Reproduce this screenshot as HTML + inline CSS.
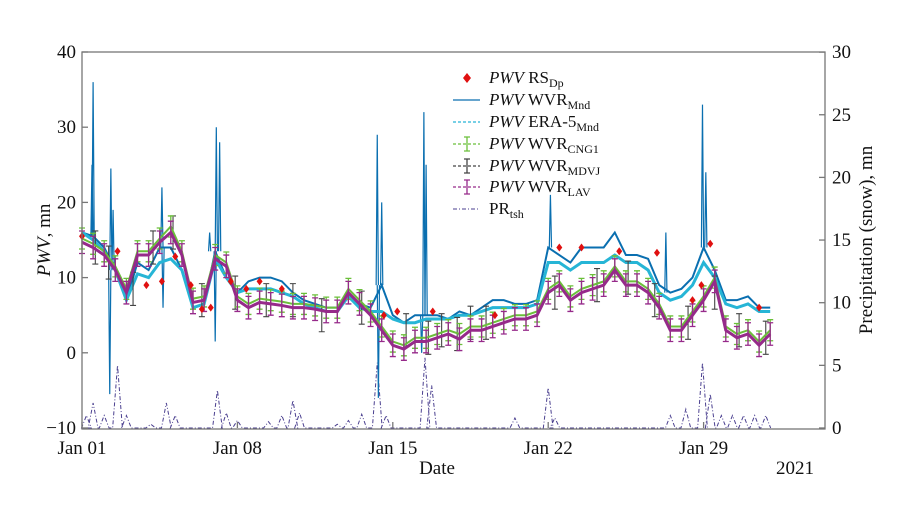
<!DOCTYPE html>
<html><head><meta charset="utf-8"><style>
body{margin:0;background:#fff;}
svg text{font-family:"Liberation Serif",serif;fill:#111;}
</style></head><body>
<svg id="chart" width="921" height="523" viewBox="0 0 921 523" xmlns="http://www.w3.org/2000/svg">
<rect x="0" y="0" width="921" height="523" fill="#fff"/>
<g id="marks"></g>
<rect x="82" y="52" width="743" height="377" fill="none" stroke="#777" stroke-width="1.3"/>
<g id="axes"></g>
<text transform="translate(50,240) rotate(-90)" text-anchor="middle" font-size="19"><tspan font-style="italic">PWV</tspan>, mn</text>
<text transform="translate(872,240) rotate(-90)" text-anchor="middle" font-size="19">Precipitation (snow), mn</text>
<text x="437" y="474" text-anchor="middle" font-size="19">Date</text>
<text x="795" y="474" text-anchor="middle" font-size="19">2021</text>
<g id="legend" font-size="16"></g>
</svg>
<script>
const NS="http://www.w3.org/2000/svg";
const days=[0,0.5,1,1.5,2,2.5,3,3.5,4,4.5,5,5.5,6,6.5,7,7.5,8,8.5,9,9.5,10,10.5,11,11.5,12,12.5,13,13.5,14,14.5,15,15.5,16,16.5,17,17.5,18,18.5,19,19.5,20,20.5,21,21.5,22,22.5,23,23.5,24,24.5,25,25.5,26,26.5,27,27.5,28,28.5,29,29.5,30,30.5,31];
const wvrMnd=[16,15.5,14,11,7,12,11,14,14,11,6,6.5,13.5,10,8,9.5,10,10,9.5,8,7,6.5,6,6,8,6.5,6,9,5,4,5,5,5,4.5,5.5,5,6,7,7,6.5,6.5,7,14,13,12,14,14,14,16,13,13,12.5,9,8,8.5,10,14,11,7,7,7.5,6,6];
const era5=[16,15,13.5,11,7,10.5,10,12,12.5,11,6,6.5,12.5,10,8,8.5,8.5,8.5,8,7.5,6.5,6,5.5,5.5,7.5,6,5.5,5.5,4.5,4,4,4.5,4.5,4.5,5,5,5.5,6,6,6,6,6.5,12,12,11,12,12,12,13,12,12,11,8,7,7.5,9,12,10,6.5,6,6.5,5.5,5.5];
const cng1=[15.2,14.5,13.5,11.5,8.5,13.5,13.5,15.2,16.8,13.5,7.2,7.5,13,12,7.5,6.5,7.2,7,6.8,6.5,6.5,6.3,6,6,8.5,7,5.5,3.5,1.5,1,2,2,2.5,3,2.5,3.5,3.5,4,4.5,5,5,5.5,8.5,9.5,7.5,8.5,9,9.5,11.5,9.5,9.5,8.5,6.5,3.5,3.5,5.5,7.5,10,3.5,2.5,3,1.5,3];
const lav=[14.7,14,13,11,8,13,13,14.7,16,13,6.7,7,12.5,11.5,7,6,6.7,6.5,6.3,6,6,5.8,5.5,5.5,8,6.5,5,3,1,0.5,1.5,1.5,2,2.5,1.8,3,3,3.5,4,4.5,4.5,5,8,9,7,8,8.5,9,11,9,9,8,6,3,3,5,7,9.5,3,2,2.5,1,2.5];
const mdvjDays=[0.6,1.2,2.3,3.2,4.1,5.4,6.9,8.3,9.5,10.8,12.6,14.6,15.6,16.2,16.9,17.5,18.2,21.3,23.2,24.6,25.8,27.3,28.5,29.6,30.8];
const mdvjVals=[14,12,8.5,14,16,7,8,7,7,5,6,3,2,3,2.5,4,4,8,9,10,7,4,8,3,2];
const spikeDays=[0.45,0.5,1.25,1.3,1.4,3.6,3.65,5.75,6.0,6.05,6.2,13.3,13.35,13.5,15.3,15.4,15.5,21.1,26.3,27.95,28.1];
const spikeVals=[25,36,-5.5,24.5,19,22,6,16,1.5,30,28,29,-6,20,0,32,25,21,16,33,24];
const rsDays=[0,1.6,2.9,3.6,4.2,4.9,5.4,5.8,6.7,7.4,8,9,13.6,14.2,15.8,18.6,21.5,22.5,24.2,25.9,27.5,27.9,28.3,30.5];
const rsVals=[15.5,13.5,9,9.5,12.8,9,5.8,6,9.5,8.5,9.5,8.5,5,5.5,5.5,5,14,14,13.5,13.3,7,9,14.5,6];
const prDays=[0.2,0.5,1,1.6,2,3.1,3.8,4.2,6.1,6.5,7,8.4,9,9.5,9.8,11.5,12,12.6,13.3,13.7,15.45,15.75,19.5,21,21.3,26.5,27.2,27.95,28.3,28.8,29.3,29.8,30.3,30.8];
const prVals=[1,2,1,5,1,0.3,2,1,3,1.2,0.6,0.5,1,2.2,1.2,0.3,0.6,1.1,5.2,1,5.6,3.4,0.8,3.2,0.8,1,1.5,5.2,2.7,1,1,1,1,1];
const yTicks=[-10,0,10,20,30,40];
const y2Ticks=[0,5,10,15,20,25,30];
const xTickDays=[0,7,14,21,28];
const xTickLabels=["Jan 01","Jan 08","Jan 15","Jan 22","Jan 29"];

const X=d=>82+d*22.2;
const Y=v=>428-(v+10)*7.52;
const Y2=v=>428-v*12.53;
const marks=document.getElementById('marks');
const axes=document.getElementById('axes');
function mk(tag,attrs,parent){const e=document.createElementNS(NS,tag);for(const k in attrs)e.setAttribute(k,attrs[k]);parent.appendChild(e);return e;}

let pd="M"+X(0)+","+Y2(0);
prDays.forEach((d,i)=>{pd+=" L"+X(d-0.22)+","+Y2(0)+" L"+X(d)+","+Y2(prVals[i])+" L"+X(d+0.22)+","+Y2(0);});
const pr=mk('path',{d:pd,fill:'none',stroke:'#4a3f8f','stroke-width':1,'stroke-dasharray':'4,2,1,2'},marks);



function line(arr,color,w,dash,name){
  let d="";arr.forEach((v,i)=>{d+=(i?" L":"M")+X(days[i])+","+Y(v);});
  const p=mk('path',{d:d,fill:'none',stroke:color,'stroke-width':w},marks);
  if(dash)p.setAttribute('stroke-dasharray',dash);
  
  
  return p;
}
function errs(arr,color,e,name){
  arr.forEach((v,i)=>{
    const x=X(days[i]);
    const g=mk('path',{d:`M${x},${Y(v-e)} L${x},${Y(v+e)} M${x-3},${Y(v-e)} L${x+3},${Y(v-e)} M${x-3},${Y(v+e)} L${x+3},${Y(v+e)}`,stroke:color,'stroke-width':1.3,fill:'none'},marks);
    
    
  });
}
spikeDays.forEach((d,i)=>{
  const base=wvrMnd[Math.round(d*2)];
  const s=mk('path',{d:`M${X(d-0.05)},${Y(base)} L${X(d)},${Y(spikeVals[i])} L${X(d+0.05)},${Y(base)}`,fill:'none',stroke:'#0a6fb0','stroke-width':1.2},marks);
  
  
});
line(wvrMnd,'#0a6fb0',2,null,'wvr-mnd-series');
line(era5,'#26b5d6',3,null,'era5-series');
mdvjDays.forEach((d,i)=>{
  const x=X(d),v=mdvjVals[i];
  const g=mk('path',{d:`M${x},${Y(v-2.2)} L${x},${Y(v+2.2)} M${x-3},${Y(v-2.2)} L${x+3},${Y(v-2.2)} M${x-3},${Y(v+2.2)} L${x+3},${Y(v+2.2)}`,stroke:'#444','stroke-width':1.1,fill:'none'},marks);
  
  
});
line(cng1,'#6bbf3a',2,null,'cng1-series');
errs(cng1,'#6bbf3a',1.4,'cng1-errorbar');
line(lav,'#962a8a',3,null,'lav-series');
errs(lav,'#962a8a',1.5,'lav-errorbar');
rsDays.forEach((d,i)=>{
  const x=X(d),y=Y(rsVals[i]);
  const p=mk('path',{d:`M${x},${y-4} L${x+3},${y} L${x},${y+4} L${x-3},${y} Z`,fill:'#e01010'},marks);
  
  
});
yTicks.forEach(v=>{
  const y=Y(v);
  mk('line',{x1:82,x2:88,y1:y,y2:y,stroke:'#777','stroke-width':1.3},axes);
  const t=mk('text',{x:76,y:y+6,'text-anchor':'end','font-size':19},axes);
  t.textContent=v<0?"\u2212"+(-v):v;
  
  
});
y2Ticks.forEach(v=>{
  const y=Y2(v);
  mk('line',{x1:819,x2:825,y1:y,y2:y,stroke:'#777','stroke-width':1.3},axes);
  const t=mk('text',{x:832,y:y+6,'text-anchor':'start','font-size':19},axes);
  t.textContent=v;
  
  
});
xTickDays.forEach((d,i)=>{
  const x=X(d);
  mk('line',{x1:x,x2:x,y1:428,y2:422,stroke:'#777','stroke-width':1.3},axes);
  const t=mk('text',{x:x,y:454,'text-anchor':'middle','font-size':19},axes);
  t.textContent=xTickLabels[i];
  
  
});
const leg=document.getElementById('legend');
const entries=[
 {y:78,sub:'Dp',name:'RS',pwv:true,sym:'diamond'},
 {y:100,sub:'Mnd',name:'WVR',pwv:true,sym:'line',c:'#0a6fb0'},
 {y:122,sub:'Mnd',name:'ERA-5',pwv:true,sym:'dash',c:'#26b5d6'},
 {y:144,sub:'CNG1',name:'WVR',pwv:true,sym:'err',c:'#6bbf3a'},
 {y:166,sub:'MDVJ',name:'WVR',pwv:true,sym:'err',c:'#444'},
 {y:187,sub:'LAV',name:'WVR',pwv:true,sym:'err',c:'#962a8a'},
 {y:209,sub:'tsh',name:'PR',pwv:false,sym:'dashdot',c:'#4a3f8f'}];
entries.forEach(e=>{
  const g=mk('g',{},leg);
  
  
  const y=e.y;
  if(e.sym==='diamond')mk('path',{d:`M467,${y-5} L471,${y} L467,${y+5} L463,${y} Z`,fill:'#e01010'},g);
  else if(e.sym==='line')mk('line',{x1:453,x2:480,y1:y,y2:y,stroke:e.c,'stroke-width':1.3},g);
  else if(e.sym==='dash')mk('line',{x1:453,x2:480,y1:y,y2:y,stroke:e.c,'stroke-width':1.3,'stroke-dasharray':'3,2'},g);
  else if(e.sym==='dashdot')mk('line',{x1:453,x2:480,y1:y,y2:y,stroke:e.c,'stroke-width':1,'stroke-dasharray':'4,2,1,2'},g);
  else{mk('line',{x1:453,x2:480,y1:y,y2:y,stroke:e.c,'stroke-width':1.3,'stroke-dasharray':'3,2'},g);
       mk('path',{d:`M467,${y-7} L467,${y+7} M464,${y-7} L470,${y-7} M464,${y+7} L470,${y+7}`,stroke:e.c,'stroke-width':1.3,fill:'none'},g);}
  const t=mk('text',{x:489,y:y+5,'font-size':17},g);
  t.innerHTML=(e.pwv?'<tspan font-style="italic">PWV</tspan> ':'')+e.name+'<tspan font-size="12" dy="4">'+e.sub+'</tspan>';
});
</script>
</body></html>
